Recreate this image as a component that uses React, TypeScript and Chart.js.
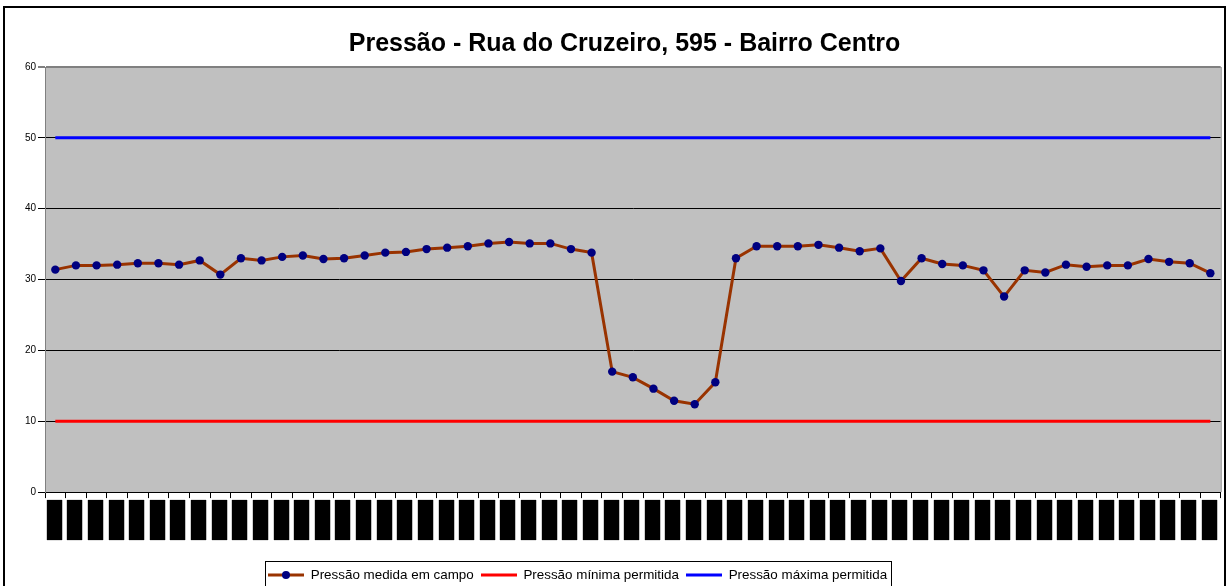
import React, { useEffect, useRef } from 'react';
import { Chart, registerables } from 'chart.js';

Chart.register(...registerables);

const chartTitle = 'Pressão - Rua do Cruzeiro, 595 - Bairro Centro';
const seriesNames = ['Pressão medida em campo', 'Pressão mínima permitida', 'Pressão máxima permitida'];

// x-axis labels are illegible in the reference (solid black blocks)
const categories = [
  '████', '████', '████', '████', '████', '████', '████', '████', '████', '████',
  '████', '████', '████', '████', '████', '████', '████', '████', '████', '████',
  '████', '████', '████', '████', '████', '████', '████', '████', '████', '████',
  '████', '████', '████', '████', '████', '████', '████', '████', '████', '████',
  '████', '████', '████', '████', '████', '████', '████', '████', '████', '████',
  '████', '████', '████', '████', '████', '████', '████',
];

const measured = [
  31.4, 32.0, 32.0, 32.1, 32.3, 32.3, 32.1, 32.7, 30.7, 33.0,
  32.7, 33.2, 33.4, 32.9, 33.0, 33.4, 33.8, 33.9, 34.3, 34.5,
  34.7, 35.1, 35.3, 35.1, 35.1, 34.3, 33.8, 17.0, 16.2, 14.6,
  12.9, 12.4, 15.5, 33.0, 34.7, 34.7, 34.7, 34.9, 34.5, 34.0,
  34.4, 29.8, 33.0, 32.2, 32.0, 31.3, 27.6, 31.3, 31.0, 32.1,
  31.8, 32.0, 32.0, 32.9, 32.5, 32.3, 30.9,
];

const minAllowed = [
  10, 10, 10, 10, 10, 10, 10, 10, 10, 10,
  10, 10, 10, 10, 10, 10, 10, 10, 10, 10,
  10, 10, 10, 10, 10, 10, 10, 10, 10, 10,
  10, 10, 10, 10, 10, 10, 10, 10, 10, 10,
  10, 10, 10, 10, 10, 10, 10, 10, 10, 10,
  10, 10, 10, 10, 10, 10, 10,
];

const maxAllowed = [
  50, 50, 50, 50, 50, 50, 50, 50, 50, 50,
  50, 50, 50, 50, 50, 50, 50, 50, 50, 50,
  50, 50, 50, 50, 50, 50, 50, 50, 50, 50,
  50, 50, 50, 50, 50, 50, 50, 50, 50, 50,
  50, 50, 50, 50, 50, 50, 50, 50, 50, 50,
  50, 50, 50, 50, 50, 50, 50,
];

const yMin = 0;
const yMax = 60;
const yStep = 10;

const BROWN = '#993300';
const NAVY = '#000080';
const RED = '#FF0000';
const BLUE = '#0000FF';
const LEGEND_PAD = 7;

function makeIcon(color: string, dot: boolean): HTMLCanvasElement {
  const c = document.createElement('canvas');
  c.width = 36;
  c.height = 10;
  const g = c.getContext('2d')!;
  g.strokeStyle = color;
  g.lineWidth = 3;
  g.beginPath();
  g.moveTo(0, 5);
  g.lineTo(36, 5);
  g.stroke();
  if (dot) {
    g.fillStyle = NAVY;
    g.beginPath();
    g.arc(18, 5, 4, 0, Math.PI * 2);
    g.fill();
  }
  return c;
}

const framePlugin = {
  id: 'excelFrame',
  beforeDraw(chart: any) {
    const { ctx, chartArea: a } = chart;
    ctx.save();
    ctx.fillStyle = '#ffffff';
    ctx.fillRect(0, 0, chart.width, chart.height);
    ctx.fillStyle = '#C0C0C0';
    ctx.fillRect(a.left, a.top, a.right - a.left, a.bottom - a.top);
    ctx.restore();
    const lg = chart.legend;
    if (lg) {
      const h = lg.height;
      lg.left = 261;
      lg.right = chart.width;
      lg.top = 575 - LEGEND_PAD - 6.75;
      lg.bottom = lg.top + h;
    }
    const tb = chart.titleBlock;
    if (tb) {
      tb.left = 21;
      tb.right = chart.width;
    }
  },
  afterDraw(chart: any) {
    const { ctx, chartArea: a } = chart;
    ctx.save();
    ctx.strokeStyle = '#808080';
    ctx.lineWidth = 1;
    ctx.beginPath();
    ctx.moveTo(a.right + 0.5, a.top);
    ctx.lineTo(a.right + 0.5, a.bottom);
    ctx.stroke();
    const lg = chart.legend;
    if (lg && lg.lineWidths) {
      ctx.strokeStyle = '#000';
      ctx.lineWidth = 1;
      const x0 = Math.round(lg.left + LEGEND_PAD - 3) + 0.5;
      const x1 = Math.round(lg.left + lg.lineWidths[0] + 4) + 0.5;
      ctx.strokeRect(x0, 561.5, x1 - x0, 60);
    }
    ctx.strokeStyle = '#000';
    ctx.lineWidth = 2;
    ctx.strokeRect(4, 7, 1221, 700);
    ctx.restore();
  },
};

export default function App() {
  const ref = useRef<HTMLCanvasElement | null>(null);

  useEffect(() => {
    document.body.style.margin = '0';
    document.body.style.overflow = 'hidden';
    const icons = [makeIcon(BROWN, true), makeIcon(RED, false), makeIcon(BLUE, false)];
    const chart = new Chart(ref.current!, {
      type: 'line',
      data: {
        labels: categories,
        datasets: [
          {
            label: seriesNames[0],
            data: measured,
            borderColor: BROWN,
            backgroundColor: NAVY,
            borderWidth: 3,
            pointRadius: 4.2,
            pointBackgroundColor: NAVY,
            pointBorderColor: NAVY,
            pointBorderWidth: 0,
            tension: 0,
          },
          {
            label: seriesNames[1],
            data: minAllowed,
            borderColor: RED,
            backgroundColor: RED,
            borderWidth: 3,
            pointRadius: 0,
          },
          {
            label: seriesNames[2],
            data: maxAllowed,
            borderColor: BLUE,
            backgroundColor: BLUE,
            borderWidth: 3,
            pointRadius: 0,
          },
        ],
      },
      options: {
        animation: false,
        responsive: false,
        maintainAspectRatio: false,
        events: [],
        layout: { padding: { left: 0, right: 6, top: 0, bottom: 0 } },
        plugins: {
          tooltip: { enabled: false },
          title: {
            display: true,
            text: chartTitle,
            color: '#000',
            font: { family: "'Liberation Sans', Arial, sans-serif", size: 25, weight: 'bold' },
            padding: { top: 29, bottom: 8 },
          },
          legend: {
            display: true,
            position: 'bottom',
            align: 'start',
            labels: {
              color: '#000',
              font: { family: "'Liberation Sans', Arial, sans-serif", size: 13.4 },
              usePointStyle: true,
              pointStyleWidth: 36,
              padding: LEGEND_PAD,
              generateLabels: (c: any) => {
                const items = (Chart as any).defaults.plugins.legend.labels.generateLabels(c);
                return items.map((it: any, i: number) => ({ ...it, pointStyle: icons[i] }));
              },
            },
          },
        },
        scales: {
          x: {
            type: 'category',
            offset: true,
            afterFit: (s: any) => { s.height = 63.5; },
            grid: { display: true, drawOnChartArea: false, drawTicks: true, tickLength: 6, color: '#000', offset: true },
            border: { display: true, color: '#000', width: 1 },
            ticks: {
              autoSkip: false,
              minRotation: 90,
              maxRotation: 90,
              padding: 2,
              color: '#000',
              font: { family: "'DejaVu Sans', sans-serif", size: 13 },
            },
          },
          y: {
            min: yMin,
            max: yMax,
            afterFit: (s: any) => { s.width = 45; },
            grid: {
              color: (ctx: any) => (ctx.tick && ctx.tick.value === yMax ? '#808080' : '#000'),
              lineWidth: (ctx: any) => (ctx.tick && ctx.tick.value === yMax ? 2 : 1),
              tickLength: 7,
              drawTicks: true,
            },
            border: { display: true, color: '#808080', width: 1 },
            ticks: {
              stepSize: yStep,
              padding: 2,
              color: '#000',
              font: { family: "'Liberation Sans', Arial, sans-serif", size: 10 },
            },
          },
        },
      },
      plugins: [framePlugin],
    } as any);
    return () => chart.destroy();
  }, []);

  return (
    <div style={{ width: 1228, height: 586, position: 'relative' }}>
      <canvas ref={ref} width={1228} height={586} style={{ display: 'block', width: 1228, height: 586 }} />
    </div>
  );
}
